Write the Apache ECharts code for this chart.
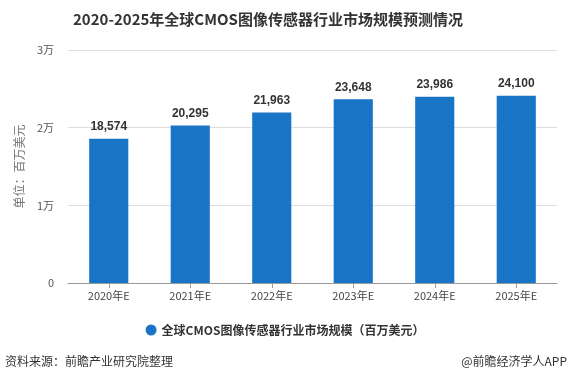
<!DOCTYPE html>
<html><head><meta charset="utf-8">
<script src="https://cdn.jsdelivr.net/npm/echarts@6/dist/echarts.min.js"></script>
<style>html,body{margin:0;padding:0;background:#fff}#c{width:570px;height:383px}</style>
</head><body><div id="c"></div>
<script>
const categories = ['2020年E','2021年E','2022年E','2023年E','2024年E','2025年E'];
const marketSize = [18574, 20295, 21963, 23648, 23986, 24100];
const yTicks = {0:'0',10000:'1万',20000:'2万',30000:'3万'};
const seriesName = '全球CMOS图像传感器行业市场规模（百万美元）';

const chart = echarts.init(document.getElementById('c'));
chart.setOption({
  backgroundColor:'#fff',
  animation:false,
  title:{text:'2020-2025年全球CMOS图像传感器行业市场规模预测情况',left:68,top:7,
    textStyle:{fontSize:15,fontWeight:'bold',color:'#333',fontFamily:'Noto Sans CJK SC'}},
  grid:{left:68,right:13,top:50,bottom:100},
  legend:{bottom:42,left:'center',icon:'circle',itemWidth:11,itemHeight:11,
    textStyle:{fontSize:12,fontWeight:'bold',color:'#333',fontFamily:'Noto Sans CJK SC'},
    data:[seriesName]},
  xAxis:{type:'category',data:categories,
    axisLine:{lineStyle:{color:'#999'}},axisTick:{show:true,alignWithLabel:true,lineStyle:{color:'#999'}},
    axisLabel:{color:'#444',fontSize:11,margin:7,fontFamily:'Noto Sans CJK SC'}},
  yAxis:{type:'value',min:0,max:30000,interval:10000,
    name:'单位：百万美元',nameLocation:'middle',nameGap:43,nameRotate:90,
    nameTextStyle:{color:'#777',fontSize:12,fontFamily:'Noto Sans CJK SC'},
    axisLine:{show:false},axisTick:{show:false},
    splitLine:{lineStyle:{color:'#ddd'}},
    axisLabel:{color:'#555',fontSize:11,margin:14,fontFamily:'Noto Sans CJK SC',formatter:v=>yTicks[v]}},
  series:[{name:seriesName,type:'bar',data:marketSize,barWidth:'48%',
    itemStyle:{color:'#1874C4'},
    label:{show:true,position:'top',distance:6,fontWeight:'bold',fontSize:12,color:'#333',
      formatter:p=>p.value.toLocaleString('en-US')}}],
  graphic:[
    {type:'text',left:5,top:355,style:{text:'资料来源：前瞻产业研究院整理',fontSize:12,fill:'#333',fontFamily:'Noto Sans CJK SC'}},
    {type:'text',right:3,top:355,style:{text:'@前瞻经济学人APP',fontSize:12,fill:'#333',fontFamily:'Noto Sans CJK SC'}}
  ]
});
</script></body></html>
